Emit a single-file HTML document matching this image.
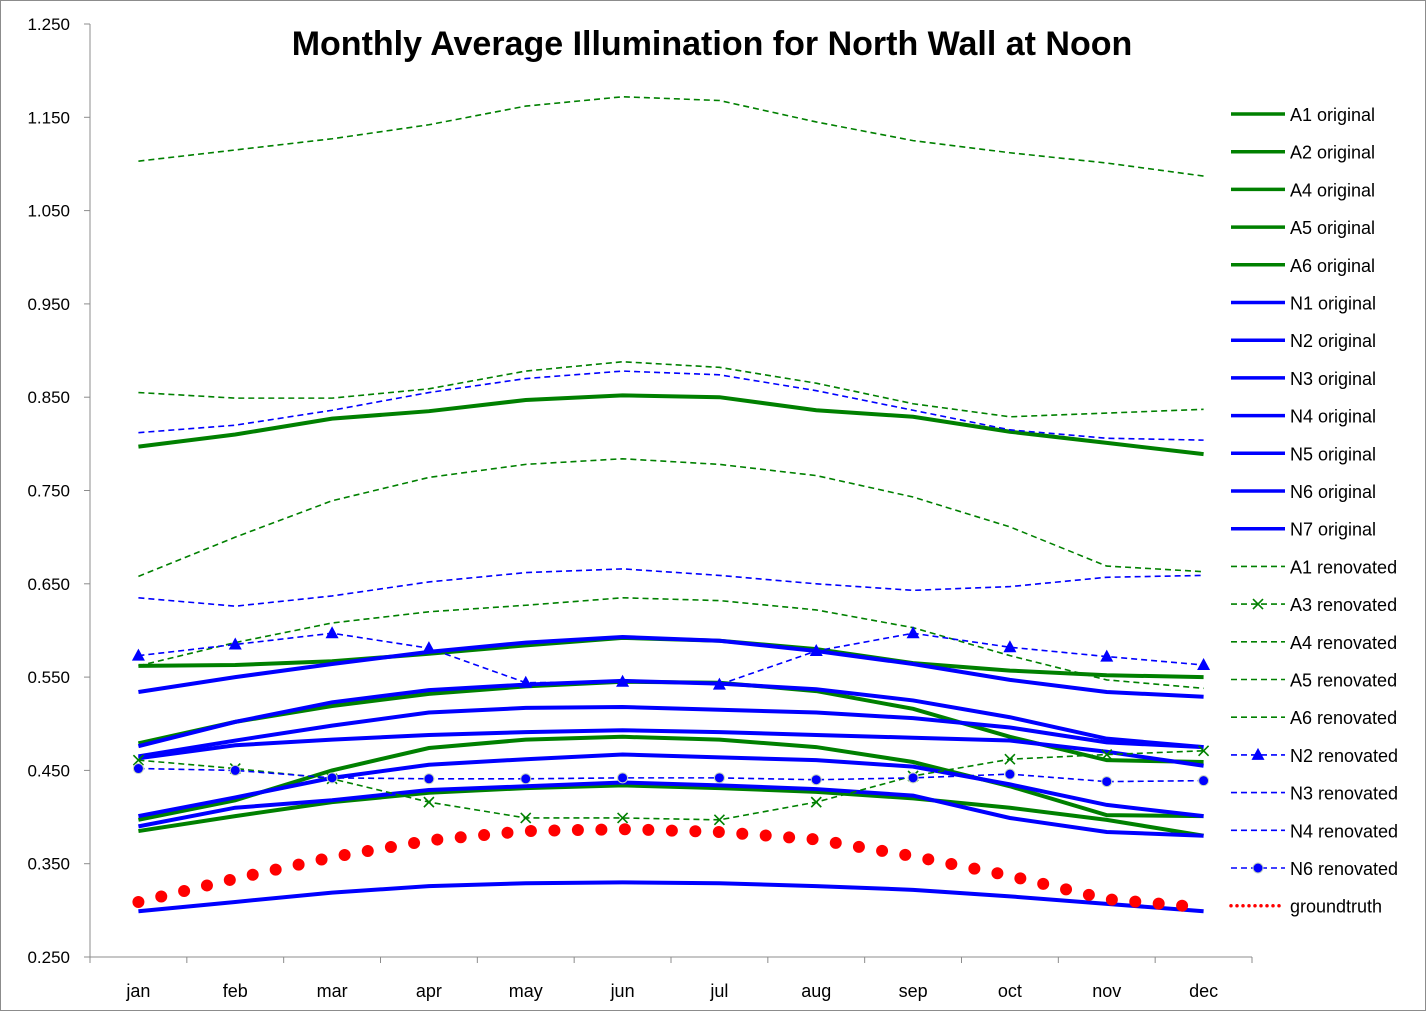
<!DOCTYPE html>
<html><head><meta charset="utf-8"><style>
html,body{margin:0;padding:0;background:#fff;}
svg{display:block;font-family:"Liberation Sans",sans-serif;}
</style></head><body>
<svg id="chart" width="1427" height="1012" viewBox="0 0 1427 1012">
<rect x="0.5" y="0.5" width="1425" height="1010" fill="#fff" stroke="#8c8c8c"/>
<text x="712" y="55" text-anchor="middle" font-size="34" font-weight="bold" fill="#000">Monthly Average Illumination for North Wall at Noon</text>
<g id="axes"></g><g id="series"></g><g id="legend"></g>
</svg>
<script>
const months=["jan","feb","mar","apr","may","jun","jul","aug","sep","oct","nov","dec"];
const yTicks=[0.25,0.35,0.45,0.55,0.65,0.75,0.85,0.95,1.05,1.15,1.25];
const A1o=[0.797,0.810,0.827,0.835,0.847,0.852,0.850,0.836,0.829,0.813,0.801,0.789];
const A2o=[0.562,0.563,0.567,0.575,0.584,0.592,0.589,0.580,0.565,0.557,0.552,0.550];
const A4o=[0.479,0.502,0.519,0.532,0.540,0.545,0.544,0.535,0.516,0.486,0.461,0.459];
const A5o=[0.397,0.418,0.450,0.474,0.483,0.486,0.483,0.475,0.459,0.433,0.402,0.401];
const A6o=[0.385,0.401,0.416,0.426,0.431,0.434,0.431,0.427,0.420,0.410,0.397,0.380];
const N1o=[0.534,0.550,0.564,0.577,0.587,0.593,0.589,0.578,0.564,0.547,0.534,0.529];
const N2o=[0.476,0.502,0.523,0.536,0.542,0.546,0.543,0.537,0.525,0.507,0.484,0.475];
const N3o=[0.465,0.482,0.498,0.512,0.517,0.518,0.515,0.512,0.506,0.496,0.480,0.475];
const N4o=[0.463,0.477,0.483,0.488,0.491,0.493,0.491,0.488,0.485,0.482,0.470,0.455];
const N5o=[0.401,0.421,0.442,0.456,0.462,0.467,0.464,0.461,0.454,0.435,0.413,0.401];
const N6o=[0.390,0.410,0.418,0.429,0.433,0.437,0.434,0.430,0.423,0.399,0.384,0.380];
const N7o=[0.299,0.309,0.319,0.326,0.329,0.330,0.329,0.326,0.322,0.315,0.307,0.299];
const A1r=[1.103,1.115,1.127,1.142,1.162,1.172,1.168,1.145,1.125,1.112,1.101,1.087];
const A3r=[0.461,0.452,0.441,0.416,0.399,0.399,0.397,0.416,0.444,0.462,0.467,0.471];
const A4r=[0.855,0.849,0.849,0.859,0.878,0.888,0.882,0.865,0.843,0.829,0.833,0.837];
const A5r=[0.658,0.700,0.739,0.764,0.778,0.784,0.778,0.766,0.743,0.711,0.669,0.663];
const A6r=[0.562,0.587,0.608,0.620,0.627,0.635,0.632,0.622,0.603,0.573,0.547,0.538];
const N2r=[0.573,0.585,0.597,0.581,0.544,0.545,0.542,0.578,0.597,0.582,0.572,0.563];
const N3r=[0.812,0.820,0.836,0.855,0.870,0.878,0.874,0.857,0.836,0.815,0.806,0.804];
const N4r=[0.635,0.626,0.637,0.652,0.662,0.666,0.659,0.650,0.643,0.647,0.657,0.659];
const N6r=[0.452,0.450,0.442,0.441,0.441,0.442,0.442,0.440,0.442,0.446,0.438,0.439];
const GT=[0.309,0.334,0.357,0.375,0.385,0.387,0.384,0.376,0.358,0.337,0.312,0.303];

const NS="http://www.w3.org/2000/svg";
const L=90,R=1252,T=24,B=957,ymin=0.25,ymax=1.25;
const bw=(R-L)/12;
const xs=i=>L+bw*(i+0.5);
const ys=v=>B-(v-ymin)/(ymax-ymin)*(B-T);
function mk(tag,attrs,parent){const e=document.createElementNS(NS,tag);for(const k in attrs)e.setAttribute(k,attrs[k]);parent.appendChild(e);return e;}
const axes=document.getElementById('axes');
let e=mk('line',{x1:L,y1:T,x2:L,y2:B,stroke:'#8c8c8c'},axes);


e=mk('line',{x1:L,y1:B,x2:R,y2:B,stroke:'#8c8c8c'},axes);


yTicks.forEach(t=>{
  mk('line',{x1:L-6,y1:ys(t),x2:L,y2:ys(t),stroke:'#8c8c8c'},axes);
  const tx=mk('text',{x:70,y:ys(t)+6,'text-anchor':'end','font-size':17,fill:'#000'},axes);
  tx.textContent=t.toFixed(3);
  
  
});
for(let i=0;i<=12;i++)mk('line',{x1:L+bw*i,y1:B,x2:L+bw*i,y2:B+6,stroke:'#8c8c8c'},axes);
months.forEach((m,i)=>{
  const tx=mk('text',{x:xs(i),y:997,'text-anchor':'middle','font-size':18,fill:'#000'},axes);
  tx.textContent=m;
  
  
});
const G='#008000',Bl='#0000ff';
const series=[
 ["A1 original",A1o,G,'solid',null],["A2 original",A2o,G,'solid',null],["A4 original",A4o,G,'solid',null],
 ["A5 original",A5o,G,'solid',null],["A6 original",A6o,G,'solid',null],
 ["N1 original",N1o,Bl,'solid',null],["N2 original",N2o,Bl,'solid',null],["N3 original",N3o,Bl,'solid',null],
 ["N4 original",N4o,Bl,'solid',null],["N5 original",N5o,Bl,'solid',null],["N6 original",N6o,Bl,'solid',null],
 ["N7 original",N7o,Bl,'solid',null],
 ["A1 renovated",A1r,G,'dash',null],["A3 renovated",A3r,G,'dash','x'],["A4 renovated",A4r,G,'dash',null],
 ["A5 renovated",A5r,G,'dash',null],["A6 renovated",A6r,G,'dash',null],
 ["N2 renovated",N2r,Bl,'dash','tri'],["N3 renovated",N3r,Bl,'dash',null],["N4 renovated",N4r,Bl,'dash',null],
 ["N6 renovated",N6r,Bl,'dash','circ'],["groundtruth",GT,'#ff0000','dot',null]
];
function style(el,c,s){
  if(s==='solid'){el.setAttribute('stroke-width',4);}
  else if(s==='dash'){el.setAttribute('stroke-width',1.6);el.setAttribute('stroke-dasharray','6 4');}
  else {el.setAttribute('stroke-width',12);el.setAttribute('stroke-dasharray','0 23.5');el.setAttribute('stroke-linecap','round');}
  el.setAttribute('stroke',c);el.setAttribute('fill','none');
}
function marker(g,type,x,y,c){
  if(type==='x'){mk('path',{d:`M${x-5},${y-5}L${x+5},${y+5}M${x-5},${y+5}L${x+5},${y-5}`,stroke:c,'stroke-width':1.6,fill:'none'},g);}
  else if(type==='tri'){mk('path',{d:`M${x},${y-7}L${x+6.5},${y+5}L${x-6.5},${y+5}Z`,fill:c},g);}
  else if(type==='circ'){mk('circle',{cx:x,cy:y,r:5,fill:c,stroke:'#c8d8c0','stroke-width':1},g);}
}
const sg=document.getElementById('series'),lg=document.getElementById('legend');
series.forEach((s,k)=>{
  const [name,vals,c,st,mt]=s;
  const g=mk('g',{},sg);
  
  
  const p=mk('polyline',{points:vals.map((v,i)=>xs(i)+','+ys(v)).join(' ')},g);
  style(p,c,st);
  if(mt)vals.forEach((v,i)=>marker(g,mt,xs(i),ys(v),c));
  const ly=117+k*37.7;
  const lgi=mk('g',{},lg);
  
  
  const ln=mk('line',{x1:1231,y1:ly-3,x2:1285,y2:ly-3},lgi);
  style(ln,c,st);
  if(st==='solid')ln.setAttribute('stroke-width',3.5);
  if(st==='dot'){ln.setAttribute('stroke-width',3.5);ln.setAttribute('stroke-dasharray','0 6');}
  if(mt)marker(lgi,mt,1258,ly-3,c);
  const tx=mk('text',{x:1290,y:ly+4,'font-size':18,fill:'#000'},lgi);
  tx.textContent=name;
});
</script>
</body></html>
